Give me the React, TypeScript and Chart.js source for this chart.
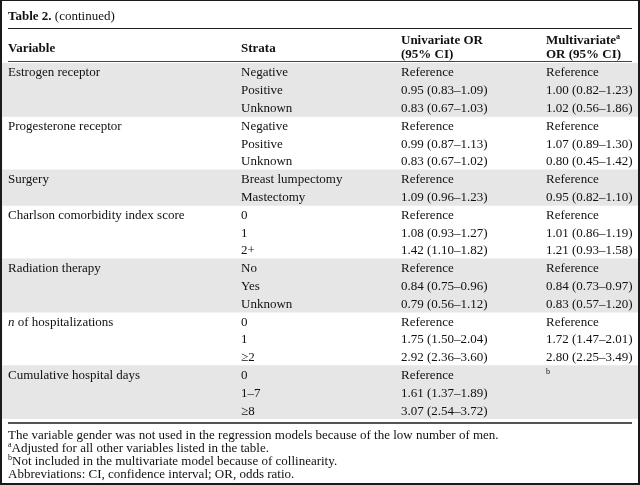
import { useEffect, useRef } from 'react';
import { Chart, registerables } from 'chart.js';

Chart.register(...registerables);

const tableTitle = ['Table 2.', ' (continued)'];
const headerVariable = 'Variable';
const headerStrata = 'Strata';
const headerUnivariate = ['Univariate OR', '(95% CI)'];
const headerMultivariate = ['Multivariate^a', 'OR (95% CI)'];

const variableNames = [
  'Estrogen receptor',
  'Progesterone receptor',
  'Surgery',
  'Charlson comorbidity index score',
  'Radiation therapy',
  '*n* of hospitalizations',
  'Cumulative hospital days',
];

const strataByVariable = [
  ['Negative', 'Positive', 'Unknown'],
  ['Negative', 'Positive', 'Unknown'],
  ['Breast lumpectomy', 'Mastectomy'],
  ['0', '1', '2+'],
  ['No', 'Yes', 'Unknown'],
  ['0', '1', '≥2'],
  ['0', '1–7', '≥8'],
];

const univariateOR = [
  'Reference', '0.95 (0.83–1.09)', '0.83 (0.67–1.03)',
  'Reference', '0.99 (0.87–1.13)', '0.83 (0.67–1.02)',
  'Reference', '1.09 (0.96–1.23)',
  'Reference', '1.08 (0.93–1.27)', '1.42 (1.10–1.82)',
  'Reference', '0.84 (0.75–0.96)', '0.79 (0.56–1.12)',
  'Reference', '1.75 (1.50–2.04)', '2.92 (2.36–3.60)',
  'Reference', '1.61 (1.37–1.89)', '3.07 (2.54–3.72)',
];

const multivariateOR = [
  'Reference', '1.00 (0.82–1.23)', '1.02 (0.56–1.86)',
  'Reference', '1.07 (0.89–1.30)', '0.80 (0.45–1.42)',
  'Reference', '0.95 (0.82–1.10)',
  'Reference', '1.01 (0.86–1.19)', '1.21 (0.93–1.58)',
  'Reference', '0.84 (0.73–0.97)', '0.83 (0.57–1.20)',
  'Reference', '1.72 (1.47–2.01)', '2.80 (2.25–3.49)',
  '^b', '', '',
];

const footnotes = [
  'The variable gender was not used in the regression models because of the low number of men.',
  '^aAdjusted for all other variables listed in the table.',
  '^bNot included in the multivariate model because of collinearity.',
  'Abbreviations: CI, confidence interval; OR, odds ratio.',
];

// rows derived from the arrays above
const rowVariable: string[] = [];
const rowStrata: string[] = [];
const rowGroup: number[] = [];
strataByVariable.forEach((list, g) => {
  list.forEach((s, k) => {
    rowVariable.push(k === 0 ? variableNames[g] : '');
    rowStrata.push(s);
    rowGroup.push(g);
  });
});
const rowLabels = rowStrata.map((_, i) => String(i));
const rowShade = rowGroup.map((g) => (g % 2 === 0 ? 1 : 0));

const FONT = '"Liberation Serif", "Times New Roman", serif';
const SIZE = 13;

type Seg = { t: string; kind: 'n' | 'i' | 'sup' };
function parseRich(s: string): Seg[] {
  const out: Seg[] = [];
  let buf = '';
  let i = 0;
  while (i < s.length) {
    const c = s[i];
    if (c === '^') {
      if (buf) { out.push({ t: buf, kind: 'n' }); buf = ''; }
      out.push({ t: s[i + 1], kind: 'sup' });
      i += 2;
    } else if (c === '*') {
      if (buf) { out.push({ t: buf, kind: 'n' }); buf = ''; }
      const j = s.indexOf('*', i + 1);
      out.push({ t: s.slice(i + 1, j), kind: 'i' });
      i = j + 1;
    } else {
      buf += c;
      i++;
    }
  }
  if (buf) out.push({ t: buf, kind: 'n' });
  return out;
}

function drawRich(ctx: CanvasRenderingContext2D, s: string, x: number, y: number, bold = false) {
  const w = bold ? 'bold ' : '';
  let cx = x;
  for (const seg of parseRich(s)) {
    if (seg.kind === 'sup') {
      ctx.font = `${w}${Math.round(SIZE * 0.6)}px ${FONT}`;
      ctx.fillText(seg.t, cx, y - 5);
    } else if (seg.kind === 'i') {
      ctx.font = `italic ${w}${SIZE}px ${FONT}`;
      ctx.fillText(seg.t, cx, y);
    } else {
      ctx.font = `${w}${SIZE}px ${FONT}`;
      ctx.fillText(seg.t, cx, y);
    }
    cx += ctx.measureText(seg.t).width;
  }
}

const COL_X = [8, 241, 401, 546];

const tablePlugin = {
  id: 'tableText',
  afterDatasetsDraw(chart: any) {
    const ctx: CanvasRenderingContext2D = chart.ctx;
    const yScale = chart.scales.y;
    const W = chart.width;
    const H = chart.height;
    ctx.save();
    ctx.fillStyle = '#111';
    ctx.textBaseline = 'alphabetic';
    ctx.textAlign = 'left';

    // title
    ctx.font = `bold ${SIZE}px ${FONT}`;
    ctx.fillText(tableTitle[0], 8, 20);
    const tw = ctx.measureText(tableTitle[0]).width;
    ctx.font = `${SIZE}px ${FONT}`;
    ctx.fillText(tableTitle[1], 8 + tw, 20);

    // headers
    drawRich(ctx, headerVariable, COL_X[0], 52, true);
    drawRich(ctx, headerStrata, COL_X[1], 52, true);
    drawRich(ctx, headerUnivariate[0], COL_X[2], 44, true);
    drawRich(ctx, headerUnivariate[1], COL_X[2], 58, true);
    drawRich(ctx, headerMultivariate[0], COL_X[3], 44, true);
    drawRich(ctx, headerMultivariate[1], COL_X[3], 58, true);

    // body
    rowStrata.forEach((_, i) => {
      const y = yScale.getPixelForValue(i) + 4.5;
      if (rowVariable[i]) drawRich(ctx, rowVariable[i], COL_X[0], y);
      drawRich(ctx, rowStrata[i], COL_X[1], y);
      drawRich(ctx, univariateOR[i], COL_X[2], y);
      if (multivariateOR[i]) drawRich(ctx, multivariateOR[i], COL_X[3], y);
    });

    // footnotes
    footnotes.forEach((f, i) => drawRich(ctx, f, 8, 439 + i * 13));

    // rules
    ctx.strokeStyle = '#222';
    ctx.lineWidth = 1;
    ctx.beginPath();
    ctx.moveTo(8, 28.5); ctx.lineTo(632, 28.5);
    ctx.stroke();
    ctx.strokeStyle = '#444';
    ctx.beginPath();
    ctx.moveTo(8, 61.5); ctx.lineTo(632, 61.5);
    ctx.stroke();
    ctx.strokeStyle = '#555';
    ctx.lineWidth = 2;
    ctx.beginPath();
    ctx.moveTo(8, 423); ctx.lineTo(632, 423);
    ctx.stroke();

    // frame
    ctx.strokeStyle = '#1a1a1a';
    ctx.lineWidth = 2;
    ctx.strokeRect(1, 0, W - 2, H - 1);
    ctx.restore();
  },
};

export default function App() {
  const ref = useRef<HTMLCanvasElement | null>(null);
  useEffect(() => {
    document.body.style.margin = '0';
    if (!ref.current) return;
    const chart = new Chart(ref.current, {
      type: 'bar',
      data: {
        labels: rowLabels,
        datasets: [
          {
            data: rowShade,
            backgroundColor: '#e6e6e6',
            borderWidth: 0,
            barPercentage: 1,
            categoryPercentage: 1,
            borderSkipped: false,
          },
        ],
      },
      options: {
        indexAxis: 'y',
        responsive: false,
        animation: false,
        layout: { padding: { top: 63, bottom: 66, left: 2, right: 2 } },
        scales: {
          x: { type: 'linear', min: 0, max: 1, display: false },
          y: { type: 'category', display: false, offset: true },
        },
        plugins: { legend: { display: false }, tooltip: { enabled: false } },
      },
      plugins: [tablePlugin],
    });
    return () => chart.destroy();
  }, []);
  return (
    <div style={{ width: 640, height: 485, background: '#fff' }}>
      <canvas ref={ref} width={640} height={485} style={{ display: 'block' }} />
    </div>
  );
}
